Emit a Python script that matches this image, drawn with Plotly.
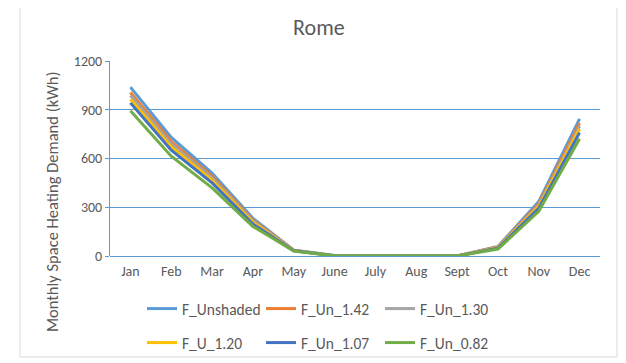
import plotly.graph_objects as go

months = ["Jan", "Feb", "Mar", "Apr", "May", "June", "July", "Aug", "Sept", "Oct", "Nov", "Dec"]

f_unshaded = [1040, 730, 510, 232, 36, 3, 0, 0, 0, 58, 335, 845]
f_un_142 = [1007, 705, 492, 222, 35, 2, 0, 0, 0, 55, 322, 818]
f_un_130 = [989, 690, 480, 215, 34, 2, 0, 0, 0, 53, 313, 800]
f_u_120 = [966, 672, 466, 207, 33, 2, 0, 0, 0, 51, 304, 782]
f_un_107 = [943, 652, 450, 197, 32, 1, 0, 0, 0, 48, 293, 760]
f_un_082 = [894, 615, 420, 182, 30, 1, 0, 0, 0, 43, 275, 722]

series = [
    ("F_Unshaded", f_unshaded, "#5B9BD5", "legend"),
    ("F_Un_1.42", f_un_142, "#ED7D31", "legend"),
    ("F_Un_1.30", f_un_130, "#A5A5A5", "legend"),
    ("F_U_1.20", f_u_120, "#FFC000", "legend2"),
    ("F_Un_1.07", f_un_107, "#4472C4", "legend2"),
    ("F_Un_0.82", f_un_082, "#70AD47", "legend2"),
]

FONT = "Calibri, Carlito, Lato, sans-serif"
GREY = "#595959"
BLUE = "#5B9BD5"

fig = go.Figure()
for name, vals, color, leg in series:
    fig.add_trace(go.Scatter(x=months, y=vals, name=name, mode="lines",
                             line=dict(color=color, width=3), legend=leg))

# page body has an 8px margin, so the figure is drawn 8px smaller/offset
legend_style = dict(orientation="h", xanchor="left", yanchor="middle",
                    xref="container", yref="container", x=134 / 618,
                    entrywidth=74, entrywidthmode="pixels", bgcolor="rgba(0,0,0,0)",
                    font=dict(family=FONT, size=15.5, color=GREY), tracegroupgap=0,
                    itemwidth=30)

fig.update_layout(
    width=618, height=355,
    margin=dict(l=102, r=26, t=53, b=107),
    paper_bgcolor="white", plot_bgcolor="white",
    font=dict(family=FONT, size=14, color=GREY),
    title=dict(text="Rome", x=0.503, xanchor="center", y=0.946, yanchor="middle",
               font=dict(family=FONT, size=22, color=GREY)),
    legend=dict(legend_style, y=1 - 301 / 355),
    legend2=dict(legend_style, y=1 - 335 / 355),
    xaxis=dict(range=[-0.5, 11.5], showgrid=False, showline=False, ticks="", zeroline=False,
               ticklabelstandoff=5, tickfont=dict(family=FONT, size=14, color=GREY)),
    yaxis=dict(range=[0, 1201], tickvals=[0, 300, 600, 900, 1200],
               showgrid=True, gridcolor=BLUE, gridwidth=1,
               showline=True, linecolor=BLUE, linewidth=1,
               ticks="outside", ticklen=4, tickcolor=BLUE,
               zeroline=True, zerolinecolor=BLUE, zerolinewidth=1,
               tickfont=dict(family=FONT, size=14, color=GREY)),
    shapes=[dict(type="rect", xref="paper", yref="paper",
                 x0=-90 / 490, x1=507 / 490, y0=-101 / 195, y1=255 / 195,
                 line=dict(color="#D9D9D9", width=1), fillcolor="rgba(0,0,0,0)",
                 layer="below")],
    annotations=[dict(text="Monthly Space Heating Demand (kWh)", textangle=-90,
                      xref="paper", yref="paper", x=-58 / 490, y=54 / 195,
                      xanchor="center", yanchor="middle", showarrow=False,
                      font=dict(family=FONT, size=16.5, color=GREY))],
)

fig.write_html("out.html")
